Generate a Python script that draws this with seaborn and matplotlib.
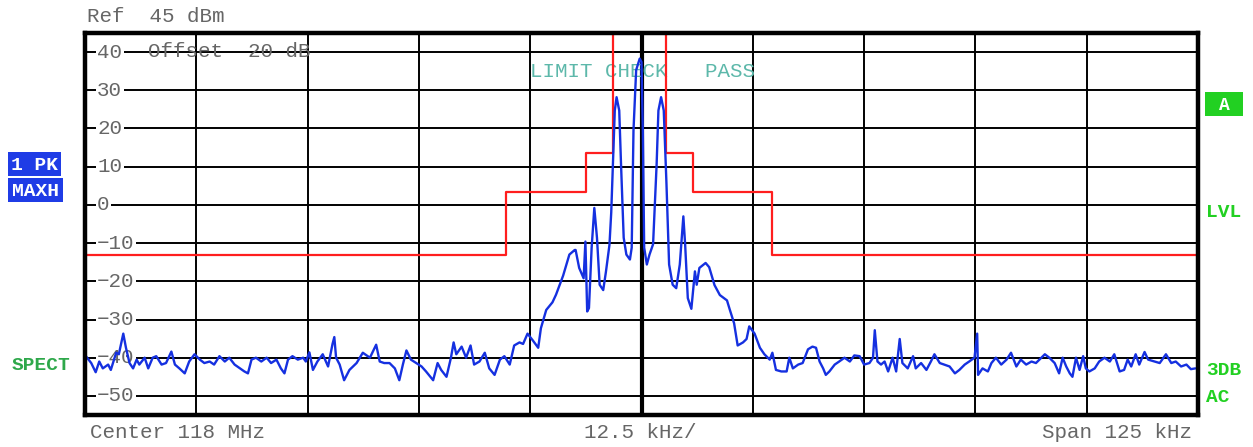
import matplotlib
matplotlib.use("Agg")
import matplotlib.pyplot as plt
import matplotlib.transforms as mtransforms
from matplotlib.patches import Rectangle
import pandas as pd
import seaborn as sns

# ---------------- data ----------------
# Spectrum trace: frequency offset from 118 MHz centre (kHz) and level (dBm)
freq_khz = [
    -62.4, -61.8, -61.3, -60.9, -60.5, -59.9, -59.6, -59.0, -58.7, -58.2,
    -57.9, -57.5, -57.1, -56.7, -56.4, -55.8, -55.4, -54.9, -54.5, -53.9,
    -53.4, -52.8, -52.4, -51.9, -51.3, -50.8, -50.2, -49.6, -49.1, -48.5,
    -48.0, -47.4, -46.8, -46.3, -45.7, -45.1, -44.6, -44.2, -43.8, -43.3,
    -42.7, -42.1, -41.6, -41.0, -40.5, -40.1, -39.7, -39.2, -38.6, -38.0,
    -37.7, -37.3, -36.9, -36.4, -35.8, -35.2, -34.7, -34.5, -34.3, -33.9,
    -33.4, -32.8, -32.0, -31.3, -30.5, -29.8, -29.4, -28.9, -28.3, -27.7,
    -27.2, -26.8, -26.4, -25.9, -25.3, -24.7, -24.2, -23.4, -22.9, -22.5,
    -21.9, -21.4, -21.1, -20.8, -20.2, -19.7, -19.2, -18.8, -18.2, -17.6,
    -17.1, -16.5, -15.9, -15.4, -14.8, -14.3, -13.7, -13.3, -12.8, -12.2,
    -11.6, -11.3, -10.7, -10.0, -9.6, -8.8, -8.1, -7.5, -7.4, -7.0,
    -6.5, -6.3, -6.1, -5.9, -5.6, -5.3, -5.0, -4.7, -4.3, -4.0,
    -3.6, -3.4, -3.0, -2.8, -2.5, -2.3, -2.0, -1.7, -1.3, -1.1,
    -0.9, -0.6, -0.2, 0.0, 0.15, 0.3, 0.6, 0.9, 1.3, 1.7,
    1.9, 2.2, 2.5, 2.8, 3.1, 3.5, 3.9, 4.3, 4.7, 4.9,
    5.2, 5.6, 6.0, 6.2, 6.5, 7.2, 7.6, 8.2, 8.8, 9.6,
    9.9, 10.4, 10.8, 11.4, 11.8, 12.1, 12.7, 13.3, 13.8, 14.4,
    14.7, 15.1, 15.7, 16.3, 16.6, 17.0, 17.6, 18.1, 18.7, 19.2,
    19.6, 20.0, 20.4, 20.7, 21.1, 21.7, 22.2, 22.8, 23.4, 23.9,
    24.5, 25.0, 25.6, 26.0, 26.2, 26.5, 26.9, 27.3, 27.7, 28.2,
    28.6, 29.0, 29.3, 29.9, 30.5, 30.8, 31.4, 32.0, 32.5, 32.9,
    33.5, 34.0, 34.6, 35.2, 35.7, 36.3, 36.8, 37.4, 37.7, 37.8,
    38.3, 38.9, 39.3, 39.8, 40.4, 41.0, 41.5, 42.1, 42.6, 43.2,
    43.8, 44.3, 44.9, 45.3, 45.8, 46.4, 46.9, 47.3, 47.7, 48.1,
    48.4, 48.8, 49.2, 49.6, 49.9, 50.3, 50.9, 51.4, 52.0, 52.6,
    53.1, 53.7, 54.2, 54.6, 55.0, 55.5, 55.9, 56.5, 56.9, 57.6,
    58.2, 58.9, 59.5, 60.0, 60.6, 61.2, 61.7, 62.2,
]
level_dbm = [
    -39.6, -41.4, -43.8, -41.0, -42.8, -41.8, -43.2, -38.7, -39.1, -33.7,
    -37.4, -41.4, -42.8, -40.5, -41.8, -40.0, -42.8, -40.0, -39.6, -41.8,
    -41.4, -38.4, -41.8, -42.8, -44.1, -41.0, -39.1, -40.5, -41.4, -41.0,
    -41.8, -39.6, -41.0, -40.0, -41.8, -42.8, -43.6, -44.1, -40.5, -40.0,
    -41.0, -40.0, -41.4, -40.5, -42.8, -44.1, -40.5, -39.6, -40.5, -40.0,
    -41.0, -38.6, -43.2, -41.0, -39.1, -42.3, -36.4, -34.6, -40.0, -41.8,
    -45.9, -43.2, -41.4, -38.7, -40.0, -36.6, -41.0, -41.4, -41.4, -42.8,
    -45.9, -41.8, -38.1, -40.5, -41.4, -42.3, -43.6, -45.9, -41.4, -43.2,
    -45.0, -40.0, -36.0, -39.1, -37.1, -40.0, -36.8, -41.8, -41.0, -38.7,
    -42.8, -44.5, -40.5, -39.6, -41.8, -36.8, -36.0, -36.4, -33.7, -35.5,
    -37.4, -32.3, -27.5, -25.5, -23.5, -18.5, -13.0, -11.8, -11.8, -16.5,
    -19.2, -9.6, -27.9, -27.0, -11.2, -0.8, -8.6, -20.9, -22.3, -17.6,
    -10.5, -2.0, 24.7, 28.2, 24.7, 10.7, -8.6, -13.0, -14.3, -11.2,
    19.5, 35.3, 38.3, 37.4, 19.5, -11.2, -15.6, -13.0, -10.3, 10.7,
    24.7, 28.2, 24.7, 5.8, -15.6, -20.9, -21.8, -15.6, -3.0, -10.3,
    -24.4, -27.2, -17.4, -20.9, -16.5, -15.2, -16.3, -21.0, -23.6, -25.0,
    -27.3, -31.0, -36.8, -36.0, -35.1, -31.8, -33.7, -37.4, -39.1, -40.5,
    -38.7, -43.2, -43.6, -43.6, -40.0, -42.8, -41.8, -41.4, -37.8, -37.1,
    -37.4, -41.0, -42.8, -44.5, -43.6, -41.8, -41.0, -40.0, -41.0, -39.4,
    -39.6, -41.8, -41.4, -40.0, -32.8, -41.0, -41.8, -41.0, -43.6, -40.0,
    -43.6, -35.1, -41.4, -42.8, -39.6, -42.8, -41.4, -43.2, -41.0, -39.1,
    -41.4, -41.8, -42.3, -44.1, -43.2, -41.8, -41.0, -40.0, -33.7, -44.5,
    -42.8, -43.6, -41.4, -40.0, -41.8, -40.5, -38.7, -42.3, -40.5, -41.8,
    -41.0, -41.4, -40.0, -39.1, -40.0, -41.4, -44.1, -40.0, -42.3, -44.1,
    -45.0, -40.0, -43.2, -39.6, -42.8, -43.6, -42.8, -41.0, -40.0, -41.0,
    -39.1, -43.6, -43.2, -40.5, -42.3, -39.1, -41.8, -38.5, -40.5, -41.0,
    -41.4, -39.1, -41.4, -41.0, -42.3, -41.8, -43.0, -42.8,
]

# Limit line (kHz offset, dBm)
limit_khz = [-62.5, -15.2, -15.2, -6.2, -6.2, -3.2, -3.2, 2.8, 2.8, 5.8, 5.8, 14.7, 14.7, 62.5]
limit_dbm = [-13.0, -13.0, 3.5, 3.5, 13.5, 13.5, 60.0, 60.0, 13.5, 13.5, 3.5, 3.5, -13.0, -13.0]

# Grid / labels
level_grid = [40, 30, 20, 10, 0, -10, -20, -30, -40, -50]
level_labels = ["40", "30", "20", "10", "0", "\u221210", "\u221220", "\u221230", "\u221240", "\u221250"]
freq_grid = [-50.0, -37.5, -25.0, -12.5, 12.5, 25.0, 37.5, 50.0]
span_khz = 125.0
ref_level, bottom_level = 45, -55

header_text = "Ref  45 dBm"
offset_text = "Offset  20 dB"
limit_text = "LIMIT CHECK   PASS"
footer_left, footer_mid, footer_right = "Center 118 MHz", "12.5 kHz/", "Span 125 kHz"

# ---------------- figure ----------------
W, H = 1253, 447
sns.set_theme(style="white")
plt.rcParams["font.family"] = ["Liberation Mono", "DejaVu Sans Mono", "DejaVu Sans"]

fig = plt.figure(figsize=(W / 100, H / 100), dpi=100)
fig.patch.set_facecolor("white")
L, R, T, B = 85, 1198, 33, 415
ax = fig.add_axes([L / W, 1 - B / H, (R - L) / W, (B - T) / H])
ax.set_facecolor("white")
ax.set_xlim(-span_khz / 2, span_khz / 2)
ax.set_ylim(bottom_level, ref_level)

GRAY = "#666666"
for y in level_grid:
    ax.axhline(y, color="black", lw=1.4, zorder=1)
for x in freq_grid:
    ax.axvline(x, color="black", lw=1.4, zorder=1)
ax.axvline(0, color="black", lw=3.0, zorder=1)

blend = mtransforms.blended_transform_factory(ax.transAxes, ax.transData)
for y, lab in zip(level_grid, level_labels):
    ax.text(0.011, y, lab, transform=blend, ha="left", va="center", fontsize=15,
            color=GRAY, zorder=2,
            bbox=dict(facecolor="white", edgecolor="none", pad=1.2))

ax.text(530 / W, 1 - 77 / H, limit_text, transform=fig.transFigure, ha="left",
        va="baseline", fontsize=15, color="#5DB8AA", zorder=2.2)

lim_df = pd.DataFrame({"f": limit_khz, "L": limit_dbm})
sns.lineplot(data=lim_df, x="f", y="L", sort=False, estimator=None, ax=ax,
             color="#FF1E1E", lw=1.6, zorder=3)
tr_df = pd.DataFrame({"f": freq_khz, "L": level_dbm})
sns.lineplot(data=tr_df, x="f", y="L", sort=False, estimator=None, ax=ax,
             color="#1530E0", lw=1.7, zorder=4)

ax.set_xlim(-span_khz / 2, span_khz / 2)
ax.set_ylim(bottom_level, ref_level)
ax.set_xticks([])
ax.set_yticks([])
ax.set_xlabel("")
ax.set_ylabel("")
for s in ax.spines.values():
    s.set_visible(True)
    s.set_color("black")
    s.set_linewidth(3.2)
    s.set_zorder(5)


def ftext(x, y, s, **kw):
    return fig.text(x / W, 1 - y / H, s, **kw)


ftext(87, 22, header_text, ha="left", va="baseline", fontsize=15, color=GRAY)
ftext(148, 57, offset_text, ha="left", va="baseline", fontsize=15, color=GRAY, zorder=6)
ftext(90, 438, footer_left, ha="left", va="baseline", fontsize=15, color=GRAY)
ftext(640, 438, footer_mid, ha="center", va="baseline", fontsize=15, color=GRAY)
ftext(1192, 438, footer_right, ha="right", va="baseline", fontsize=15, color=GRAY)

# left indicator boxes
BLUE = "#1F3CE6"
for (x0, y0, x1, y1), lab in [((8, 152, 61, 176), "1 PK"), ((8, 178, 63, 202), "MAXH")]:
    fig.patches.append(Rectangle((x0 / W, 1 - y1 / H), (x1 - x0) / W, (y1 - y0) / H,
                                 transform=fig.transFigure, facecolor=BLUE,
                                 edgecolor="none"))
    ftext((x0 + x1) / 2, (y0 + y1) / 2 + 1, lab, ha="center", va="center",
          fontsize=14, color="white", fontweight="bold")

ftext(12, 370, "SPECT", ha="left", va="baseline", fontsize=14,
      color="#2EA84A", fontweight="bold")

# right indicators
GREEN = "#22D022"
fig.patches.append(Rectangle((1205 / W, 1 - 116 / H), 38 / W, 24 / H,
                             transform=fig.transFigure, facecolor=GREEN,
                             edgecolor="none"))
ftext(1224, 105, "A", ha="center", va="center", fontsize=13, color="white",
      fontweight="bold")
ftext(1206, 217, "LVL", ha="left", va="baseline", fontsize=14, color=GREEN,
      fontweight="bold")
ftext(1206, 375, "3DB", ha="left", va="baseline", fontsize=14, color=GREEN,
      fontweight="bold")
ftext(1206, 402, "AC", ha="left", va="baseline", fontsize=14, color=GREEN,
      fontweight="bold")

fig.savefig("out.png", dpi=100, facecolor="white")
